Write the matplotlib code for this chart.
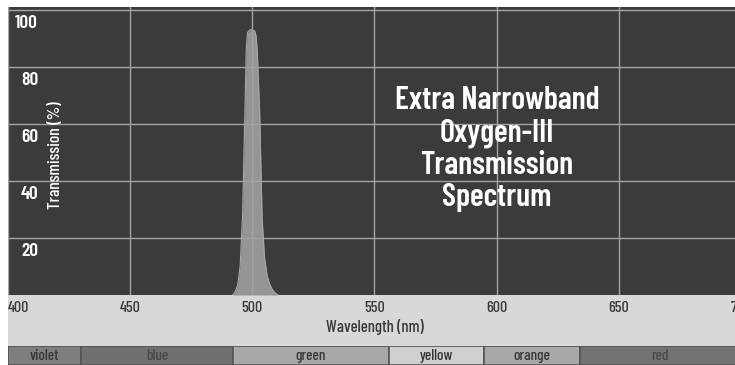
import matplotlib
matplotlib.use("Agg")
import matplotlib.pyplot as plt
from matplotlib.patches import Rectangle

# transmission curve of the O-III filter
wavelength = [492, 493, 494, 495, 496, 497, 497.5, 498, 499, 500,
              501, 501.5, 502, 503, 504, 505, 506, 507, 508, 509, 510.5]
transmission = [0, 1.2, 3.5, 10, 28, 66, 86, 92, 93, 93,
                92.5, 91, 86, 64, 27, 13, 7, 4, 2.2, 1, 0]

x_ticks = [400, 450, 500, 550, 600, 650, 700]
y_ticks = [20, 40, 60, 80, 100]

band_names = ["violet", "blue", "green", "yellow", "orange", "red"]
band_start = [400, 430, 492, 556, 595, 634]
band_end = [430, 492, 556, 595, 634, 700]
band_colors = ["#7e7e7e", "#707070", "#a8a8a8", "#d0d0d0", "#a8a8a8", "#727272"]
band_text = ["#383838", "#484848", "#383838", "#333333", "#383838", "#484848"]

NARROW = ["Barlow Condensed", "DejaVu Sans"]

W, H = 735, 365
fig = plt.figure(figsize=(W / 100, H / 100), dpi=100, facecolor="white")

left = 8 / W
width = (741 - 8) / W

# light grey strip under the plot
fig.patches.append(Rectangle((left, 0), 1 - left, (H - 295) / H,
                             transform=fig.transFigure, facecolor="#d8d8d8",
                             edgecolor="none", zorder=-5))

ax = fig.add_axes([left, (H - 295) / H, width, (295 - 7) / H])
ax.set_facecolor("#3b3b3b")
ax.fill_between(wavelength, transmission, color="#959595", lw=0, zorder=2)
ax.plot(wavelength, transmission, color="#a8a8a8", lw=0.8, zorder=2)
ax.set_xlim(400, 700)
ax.set_ylim(0, 101)
ax.set_xticks(x_ticks)
ax.set_yticks(y_ticks)
ax.grid(True, color="#a2a2a2", lw=1.0, zorder=3)
ax.set_axisbelow(False)
for s in ax.spines.values():
    s.set_visible(False)
ax.tick_params(length=0, labelleft=False)
ax.tick_params(axis="x", pad=4, labelsize=11.5, labelcolor="#3a3a3a")
for lbl in ax.get_xticklabels():
    lbl.set_fontfamily(NARROW)
    lbl.set_fontweight(500)
ax.get_xticklabels()[0].set_ha("left")
ax.get_xticklabels()[0].set_x(401)

# y labels sit inside the panel, just under each gridline
for v in y_ticks:
    ax.annotate(str(v), xy=(0, v), xycoords=("axes fraction", "data"),
                xytext=(30, -5), textcoords="offset pixels",
                ha="right", va="top", color="white", fontsize=14,
                fontweight=600, family=NARROW)

ax.text(0.065, 0.486, "Transmission (%)", transform=ax.transAxes,
        rotation=90, ha="center", va="center", color="white",
        fontsize=12.5, fontweight=500, family=NARROW)

ax.text(0.667, 0.507,
        "Extra Narrowband\nOxygen-III\nTransmission\nSpectrum",
        transform=ax.transAxes, ha="center", va="center", color="white",
        fontsize=23, fontweight=600, family=NARROW, linespacing=1.15)

fig.text(375 / W, 1 - 327 / H, "Wavelength (nm)", ha="center",
         va="center", color="#3a3a3a", fontsize=12, fontweight=500,
         family=NARROW)

# colour band strip
bx = fig.add_axes([left, 0, width, (H - 346) / H])
bx.barh(0, [e - s for s, e in zip(band_start, band_end)], left=band_start,
        height=1, color=band_colors, edgecolor="#555555", lw=1.2)
for name, s, e, c in zip(band_names, band_start, band_end, band_text):
    bx.text((s + e) / 2, -0.05, name, ha="center", va="center", color=c,
            fontsize=11, fontweight=500, family=NARROW)
bx.set_xlim(400, 700)
bx.set_ylim(-0.5, 0.5)
bx.axis("off")

fig.savefig("out.png", dpi=100, facecolor="white")
